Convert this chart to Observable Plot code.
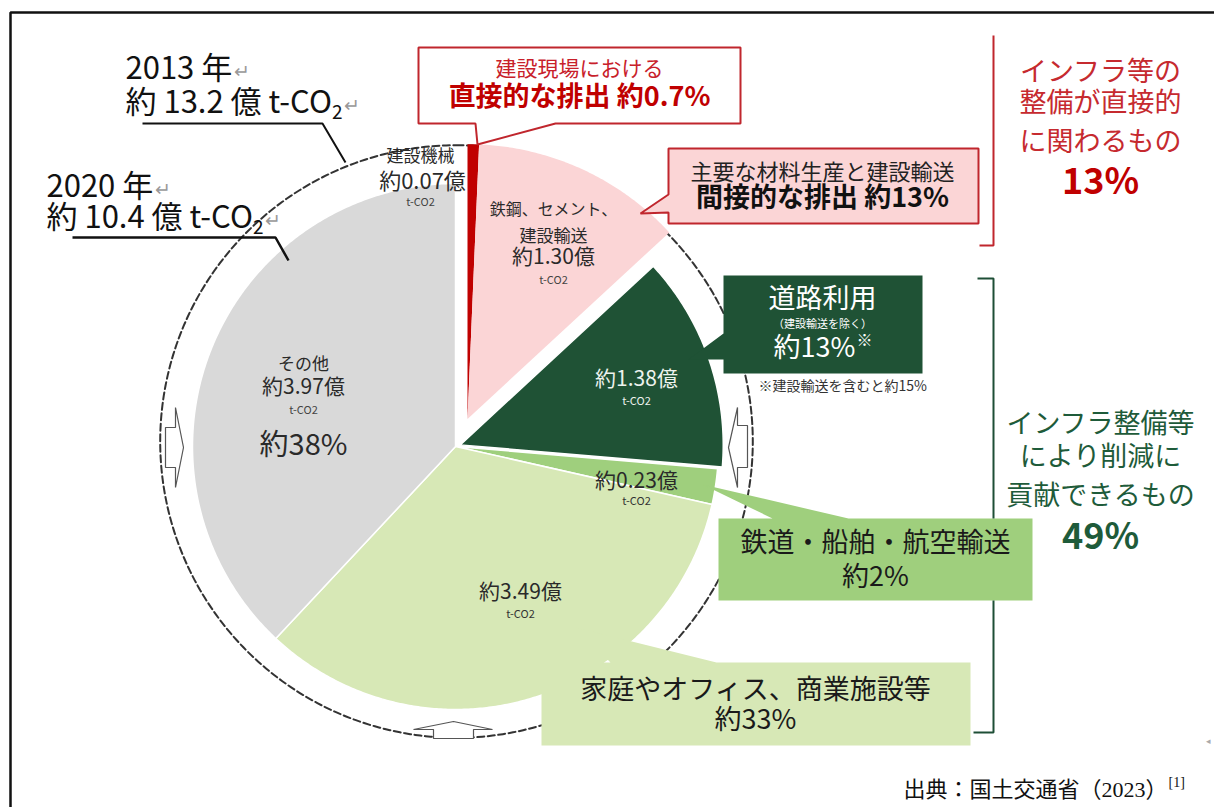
<!DOCTYPE html>
<html><head><meta charset="utf-8">
<script src="https://cdn.jsdelivr.net/npm/d3@7"></script>
<script src="https://cdn.jsdelivr.net/npm/@observablehq/plot@0.6"></script>
<style>body{margin:0;background:#fff}#chart svg{display:block}</style>
</head><body><div id="chart"></div>
<script>
// ---------------- data ----------------
const categories = ["建設機械", "鉄鋼、セメント、建設輸送", "道路利用", "鉄道・船舶・航空輸送", "家庭やオフィス、商業施設等", "その他"];
const valuesOku = [0.07, 1.30, 1.38, 0.23, 3.49, 3.97];          // 億 t-CO2 (2020)
const valueLabels = ["約0.07億", "約1.30億", "約1.38億", "約0.23億", "約3.49億", "約3.97億"];
const years = ["2013 年", "2020 年"];
const yearTotals = [13.2, 10.4];
const yearTotalLabels = ["約 13.2 億 t-CO", "約 10.4 億 t-CO"];
const calloutTexts = [
  ["建設現場における", "直接的な排出 約0.7%"],
  ["主要な材料生産と建設輸送", "間接的な排出 約13%"],
  ["道路利用", "（建設輸送を除く）", "約13%"],
  ["鉄道・船舶・航空輸送", "約2%"],
  ["家庭やオフィス、商業施設等", "約33%"]
];
const groupTexts = [
  ["インフラ等の", "整備が直接的", "に関わるもの", "13%"],
  ["インフラ整備等", "により削減に", "貢献できるもの", "49%"]
];
const noteText = "※建設輸送を含むと約15%";
const otherShare = "約38%";
const sourceText = "出典：国土交通省（2023）";

// ---------------- layout / style ----------------
const W = 1214, H = 807;
const FONT = '"Noto Sans CJK JP", "Noto Sans", sans-serif';
const SERIF = '"Liberation Serif", "Noto Sans CJK JP", serif';
const C = {x: 455, y: 446};
const R = 263;
const ringCenter = {x: 456, y: 441};
const sliceColors = ["#c00000", "#fbd5d6", "#1f5235", "#9fcf7d", "#d7e8b6", "#d9d9d9"];
const sliceGroup = [0, 0, 1, 2, 3, 4];
const groupExplode = [30, 5, 0, 0, 0];
const sliceRadiusK = [1.045, 1.045, 1, 1, 1, 1];

const ctx = document.createElement("canvas").getContext("2d");
function tw(t, size, weight = "normal", fam = FONT) { ctx.font = `${weight} ${size}px ${fam}`; return ctx.measureText(t).width; }

// pie geometry from values
const total = d3.sum(valuesOku);
const cum = d3.cumsum(valuesOku);
const ang = valuesOku.map((v, i) => [(cum[i] - v) / total * 2 * Math.PI, cum[i] / total * 2 * Math.PI]);
const gMid = [];
for (let g = 0; g <= 4; g++) {
  const idx = sliceGroup.map((gg, i) => gg === g ? i : -1).filter(i => i >= 0);
  gMid[g] = (ang[idx[0]][0] + ang[idx[idx.length - 1]][1]) / 2;
}
const slicePts = [];
valuesOku.forEach((v, i) => {
  const [a0, a1] = ang[i];
  const g = sliceGroup[i], d = groupExplode[g], m = gMid[g];
  const ox = C.x + d * Math.sin(m), oy = C.y - d * Math.cos(m);
  const r = R * sliceRadiusK[i];
  slicePts.push({name: categories[i], i, x: ox, y: oy});
  const n = Math.max(2, Math.ceil((a1 - a0) / (Math.PI / 360)));
  for (let k = 0; k <= n; k++) {
    const a = a0 + (a1 - a0) * k / n;
    slicePts.push({name: categories[i], i, x: ox + r * Math.sin(a), y: oy - r * Math.cos(a)});
  }
});
// 2013 ring: area proportional to total
const R13 = R * Math.sqrt(yearTotals[0] / yearTotals[1]);
const ringPts = d3.range(0, 361, 1).map(a => ({x: ringCenter.x + R13 * Math.sin(a * Math.PI / 180), y: ringCenter.y - R13 * Math.cos(a * Math.PI / 180)}));

const poly = (pts, o) => Plot.line(pts, {x: d => d[0], y: d => d[1], curve: "linear-closed", strokeLinejoin: "miter", ...o});
const path = (pts, o) => Plot.line(pts, {x: d => d[0], y: d => d[1], strokeLinejoin: "miter", strokeLinecap: "butt", ...o});
const T = (t, x, y, size, o = {}) => Plot.text([0], {x: () => x, y: () => y, text: () => t, fontSize: size, fontFamily: FONT, fill: "#222", ...o});

function withSup(main, sup, x, y, size, supSize, dy, o = {}, anchor = "middle", fam = FONT) {
  const w1 = tw(main, size, o.fontWeight || "normal", fam);
  const w2 = tw(sup, supSize, "normal", fam);
  const x0 = anchor === "middle" ? x - (w1 + w2) / 2 : x;
  return [T(main, x0, y, size, {textAnchor: "start", fontFamily: fam, ...o}),
          T(sup, x0 + w1 + 1, y + dy, supSize, {textAnchor: "start", fontFamily: fam, ...o})];
}
function yearBlock(i, x, y1, y2) {
  const s = 31;
  const w1 = tw(years[i], s);
  const w2 = tw(yearTotalLabels[i], s);
  const w3 = tw("2", 19);
  return [
    T(years[i], x, y1, s, {textAnchor: "start", fill: "#111"}),
    T("↵", x + w1 + 2, y1 + 2, 19, {textAnchor: "start", fill: "#999"}),
    T(yearTotalLabels[i], x, y2, s, {textAnchor: "start", fill: "#111"}),
    T("2", x + w2, y2 + 9, 19, {textAnchor: "start", fill: "#111"}),
    T("↵", x + w2 + w3 + 2, y2 + 2, 19, {textAnchor: "start", fill: "#999"})
  ];
}

const darkTxt = "#2a2a2a", onDark = "#eef3ee";
const marks = [
  // frame
  path([[10, H], [10, 12], [W, 12]], {stroke: "#111", strokeWidth: 2.5}),
  // 2013 dashed ring
  Plot.line(ringPts, {x: "x", y: "y", stroke: "#333", strokeWidth: 2, strokeDasharray: "7,3.5"}),
  // slices
  Plot.line(slicePts.filter(d => d.i < 2), {x: "x", y: "y", z: "name", fill: "name", stroke: "none", curve: "linear-closed"}),
  Plot.line(slicePts.filter(d => d.i >= 2), {x: "x", y: "y", z: "name", fill: "name", stroke: "white", strokeWidth: 1.5, curve: "linear-closed"}),
  // hollow arrows
  poly([[165, 427], [175, 427], [175, 407], [183, 447], [175, 487], [175, 467], [165, 467]], {fill: "white", stroke: "#555", strokeWidth: 1.2}),
  poly([[747, 425], [737, 425], [737, 407], [728, 447], [737, 487], [737, 467], [747, 467]], {fill: "white", stroke: "#555", strokeWidth: 1.2}),
  poly([[433, 738], [433, 729], [413, 729], [453, 721], [492, 729], [473, 729], [473, 738]], {fill: "white", stroke: "#555", strokeWidth: 1.2}),
  // year leader lines
  path([[142, 123], [322, 123], [345, 162]], {stroke: "#111", strokeWidth: 2}),
  path([[72, 237], [275, 237], [288, 260]], {stroke: "#111", strokeWidth: 2.5}),
  // callouts
  poly([[418, 47], [740, 47], [740, 123], [555, 123], [477, 144], [475, 123], [418, 123]], {fill: "white", stroke: "#c0262d", strokeWidth: 2}),
  poly([[668, 148], [978, 148], [978, 223], [668, 223], [668, 212], [640, 213], [668, 194]], {fill: "#fbd5d6", stroke: "#c0262d", strokeWidth: 2}),
  poly([[723, 275], [922, 275], [922, 373], [723, 373], [723, 359], [688, 359], [723, 333]], {fill: "#1f5235", stroke: "none"}),
  poly([[718, 518], [772, 518], [702, 484], [848, 518], [1032, 518], [1032, 600], [718, 600]], {fill: "#9fcf7d", stroke: "none"}),
  poly([[541, 662], [610, 662], [575, 627], [716, 662], [970, 662], [970, 745], [541, 745]], {fill: "#d7e8b6", stroke: "none"}),
  // brackets
  path([[993, 35], [993, 245], [979, 245]], {stroke: "#c0262d", strokeWidth: 2}),
  path([[977, 278], [993, 278], [993, 518]], {stroke: "#1e4f36", strokeWidth: 2}),
  path([[993, 600], [993, 732], [973, 732]], {stroke: "#1e4f36", strokeWidth: 2}),

  // year labels
  ...yearBlock(0, 125, 69, 103),
  ...yearBlock(1, 46, 187, 218),

  // slice labels
  T(categories[0], 420, 156, 17, {fill: darkTxt}),
  T(valueLabels[0], 422, 181, 22, {fill: darkTxt}),
  T("t-CO2", 420, 202, 11, {fill: "#444"}),
  T("鉄鋼、セメント、", 553, 209, 16, {fill: darkTxt}),
  T("建設輸送", 553, 236, 17, {fill: darkTxt}),
  T(valueLabels[1], 553, 257, 21, {fill: darkTxt}),
  T("t-CO2", 553, 280, 11, {fill: "#444"}),
  T(valueLabels[2], 636, 379, 21, {fill: onDark}),
  T("t-CO2", 636, 401, 11, {fill: onDark}),
  T(valueLabels[3], 636, 481, 21, {fill: darkTxt}),
  T("t-CO2", 636, 501, 11, {fill: "#333"}),
  T(valueLabels[4], 520, 592, 21, {fill: darkTxt}),
  T("t-CO2", 520, 614, 11, {fill: "#333"}),
  T(categories[5], 303, 364, 17, {fill: darkTxt}),
  T(valueLabels[5], 303, 387, 21, {fill: darkTxt}),
  T("t-CO2", 303, 410, 11, {fill: "#444"}),
  T(otherShare, 303, 445, 29, {fill: darkTxt}),

  // callout texts
  T(calloutTexts[0][0], 579, 69, 21, {fill: "#c8202a"}),
  T(calloutTexts[0][1], 579, 97, 27, {fill: "#c00000", fontWeight: "bold"}),
  T(calloutTexts[1][0], 822, 172, 22, {fill: "#222"}),
  T(calloutTexts[1][1], 822, 198, 27, {fill: "#111", fontWeight: "bold"}),
  T(calloutTexts[2][0], 822, 299, 27, {fill: "#fff"}),
  T(calloutTexts[2][1], 822, 324, 11, {fill: "#fff"}),
  ...withSup(calloutTexts[2][2], "※", 822, 348, 27, 16, -8, {fill: "#fff"}),
  T(noteText, 758, 386, 14, {textAnchor: "start", fill: "#333"}),
  T(calloutTexts[3][0], 875, 543, 27, {fill: "#1a1a1a"}),
  T(calloutTexts[3][1], 875, 577, 27, {fill: "#1a1a1a"}),
  T(calloutTexts[4][0], 755, 690, 27, {fill: "#1a1a1a"}),
  T(calloutTexts[4][1], 755, 720, 27, {fill: "#1a1a1a"}),

  // group texts
  T(groupTexts[0][0], 1100, 72, 27, {fill: "#c62a2f"}),
  T(groupTexts[0][1], 1100, 103, 27, {fill: "#c62a2f"}),
  T(groupTexts[0][2], 1100, 142, 27, {fill: "#c62a2f"}),
  T(groupTexts[0][3], 1100, 182, 36, {fill: "#c00000", fontWeight: "bold"}),
  T(groupTexts[1][0], 1100, 424, 27, {fill: "#1e5b3a"}),
  T(groupTexts[1][1], 1100, 457, 27, {fill: "#1e5b3a"}),
  T(groupTexts[1][2], 1100, 496, 27, {fill: "#1e5b3a"}),
  T(groupTexts[1][3], 1100, 537, 36, {fill: "#1e5b3a", fontWeight: "bold"}),

  // source
  ...withSup(sourceText, "[1]", 903, 789, 22, 14, -7, {fill: "#111"}, "start", SERIF),
  T("◂", 1208, 741, 9, {fill: "#aaa"})
];

const chart = Plot.plot({
  width: W, height: H, margin: 0,
  x: {type: "linear", domain: [0, W], range: [0, W], axis: null},
  y: {type: "linear", domain: [0, H], range: [0, H], axis: null},
  color: {domain: categories, range: sliceColors},
  style: {fontFamily: FONT, background: "#fff", overflow: "visible"},
  marks
});
document.getElementById("chart").append(chart);
</script>
</body></html>
